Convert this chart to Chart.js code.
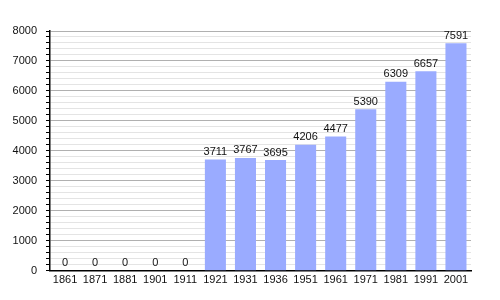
<!DOCTYPE html>
<html>
<head>
<meta charset="utf-8">
<script src="https://cdn.jsdelivr.net/npm/chart.js@4/dist/chart.umd.min.js"></script>
<style>
  html, body { margin: 0; padding: 0; background: #fff; }
  #wrap { width: 500px; height: 300px; }
</style>
</head>
<body>
<div id="wrap"><canvas id="popChart"></canvas></div>
<script>
// Population by census year
const years = ['1861', '1871', '1881', '1901', '1911', '1921', '1931', '1936', '1951', '1961', '1971', '1981', '1991', '2001'];
const population = [0, 0, 0, 0, 0, 3711, 3767, 3695, 4206, 4477, 5390, 6309, 6657, 7591];

const yMax = 8000;
const yStep = 200;
const yMajor = 1000;

const fontFamily = '"Liberation Sans", Arial, sans-serif';

// draws the value above each bar
const valueLabels = {
    id: 'valueLabels',
    afterDatasetsDraw(chart) {
        const ctx = chart.ctx;
        const meta = chart.getDatasetMeta(0);
        ctx.save();
        ctx.font = '11px ' + fontFamily;
        ctx.fillStyle = '#111';
        ctx.textAlign = 'center';
        ctx.textBaseline = 'bottom';
        meta.data.forEach((bar, i) => {
            ctx.fillText(String(population[i]), bar.x, bar.y - 2);
        });
        ctx.restore();
    }
};

const ctx = document.getElementById('popChart').getContext('2d');
new Chart(ctx, {
    type: 'bar',
    data: {
        labels: years,
        datasets: [{
            data: population,
            backgroundColor: '#9aabff',
            borderWidth: 0,
            barPercentage: 0.7,
            categoryPercentage: 1.0
        }]
    },
    options: {
        responsive: true,
        maintainAspectRatio: false,
        animation: false,
        layout: { padding: { top: 31, right: 29, bottom: 10, left: 0 } },
        plugins: {
            legend: { display: false },
            tooltip: { enabled: false }
        },
        scales: {
            x: {
                grid: { display: false, drawTicks: false },
                border: { color: '#000', width: 1.5 },
                ticks: {
                    color: '#111',
                    padding: 3,
                    maxRotation: 0,
                    autoSkip: false,
                    font: { family: fontFamily, size: 11 }
                }
            },
            y: {
                min: 0,
                max: yMax,
                afterFit(scale) { scale.width = 50; },
                border: { color: '#000', width: 1.5 },
                grid: {
                    color: c => (c.tick && c.tick.value % yMajor === 0) ? '#b0b0b0' : '#e4e4e4',
                    tickColor: '#000',
                    tickLength: 4
                },
                ticks: {
                    stepSize: yStep,
                    autoSkip: false,
                    color: '#111',
                    padding: 9,
                    font: { family: fontFamily, size: 11 },
                    callback: v => (v % yMajor === 0 ? String(v) : '')
                }
            }
        }
    },
    plugins: [valueLabels]
});
</script>
</body>
</html>
